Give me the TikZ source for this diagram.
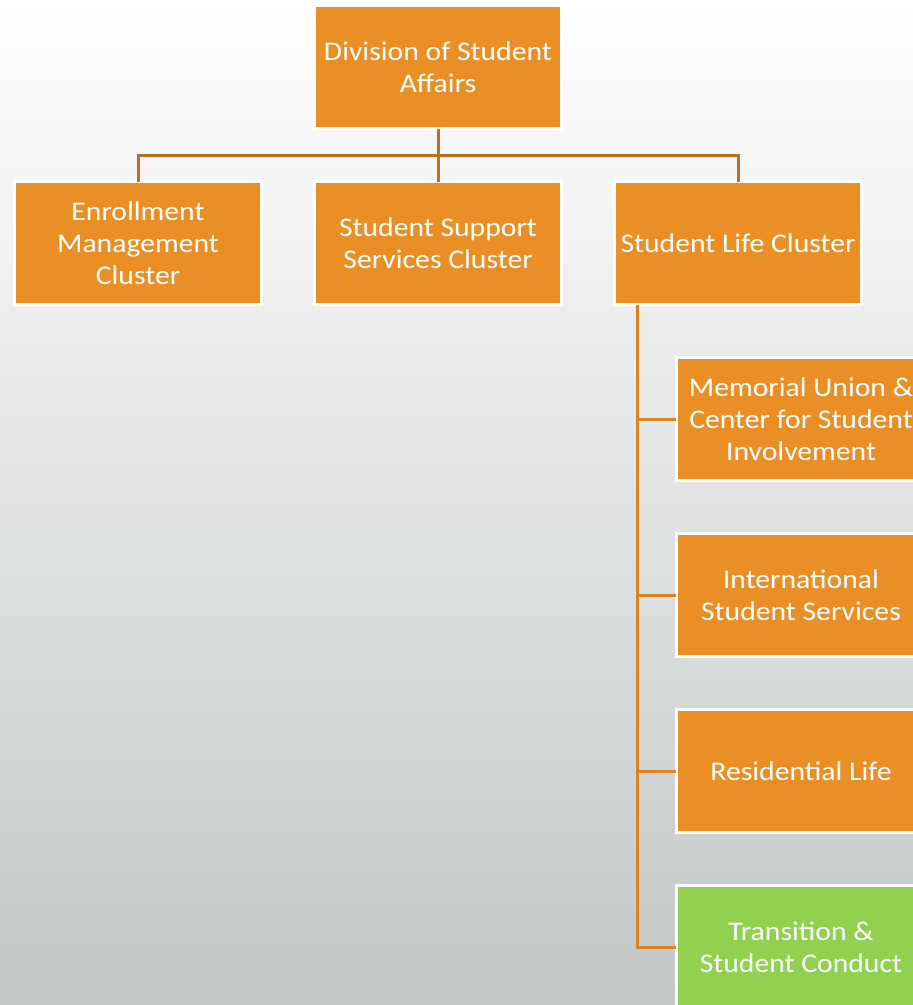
\documentclass[tikz,border=0pt]{standalone}
\usepackage{fontspec}
\setmainfont{Carlito}[FakeStretch=1.1]
\usetikzlibrary{positioning}
\definecolor{boxorange}{HTML}{E98F26}
\definecolor{boxgreen}{HTML}{92D050}
\definecolor{treebrown}{HTML}{B96F24}
\definecolor{lifeorange}{HTML}{DC8424}
\definecolor{bggrey}{HTML}{C3C7C8}

\begin{document}
\begin{tikzpicture}[on grid, node distance=176pt,
        every node/.style={outer sep=0pt},
        unit/.style={draw=white, line width=3pt, fill=boxorange, text=white,
            minimum width=247pt, minimum height=123pt, align=center,
            font=\fontsize{27}{32}\selectfont},
        office/.style={unit, minimum width=250pt},
        tree/.style={draw=treebrown, line width=3pt},
        life/.style={draw=lifeorange, line width=3pt}]

    % background
    \shade[shading angle=-35, top color=white, bottom color=bggrey]
        (0pt,0pt) rectangle (913pt,-1005pt);
    \useasboundingbox (0pt,0pt) rectangle (913pt,-1005pt);
    \clip (0pt,0pt) rectangle (913pt,-1005pt);

    \node[unit] (dsa) at (438pt,-67pt) {Division of Student\\Affairs};
    \node[unit] (sss) [below=176pt of dsa] {Student Support\\Services Cluster};
    \node[unit] (em) [left=300pt of sss] {Enrollment\\Management\\Cluster};
    \node[unit] (slc) [right=300pt of sss] {Student Life Cluster};

    \node[office] (mu) [below right=176pt and 63pt of slc] {Memorial Union \&\\Center for Student\\Involvement};
    \node[office] (iss) [below=of mu] {International\\Student Services};
    \node[office] (rl) [below=of iss] {Residential Life};
    \node[office, fill=boxgreen] (tsc) [below=of rl] {Transition \&\\Student Conduct};

    % cluster tree
    \draw[tree] (dsa.south) -- (sss.north);
    \draw[tree] (em.north) -- ++(0,26pt) -| (slc.north);

    % student life offices
    \draw[life] ([xshift=23pt]slc.south west) |- (tsc.west);
    \foreach \o in {mu, iss, rl}
        \draw[life] (\o.west) -- ++(-40pt,0);
\end{tikzpicture}
\end{document}
